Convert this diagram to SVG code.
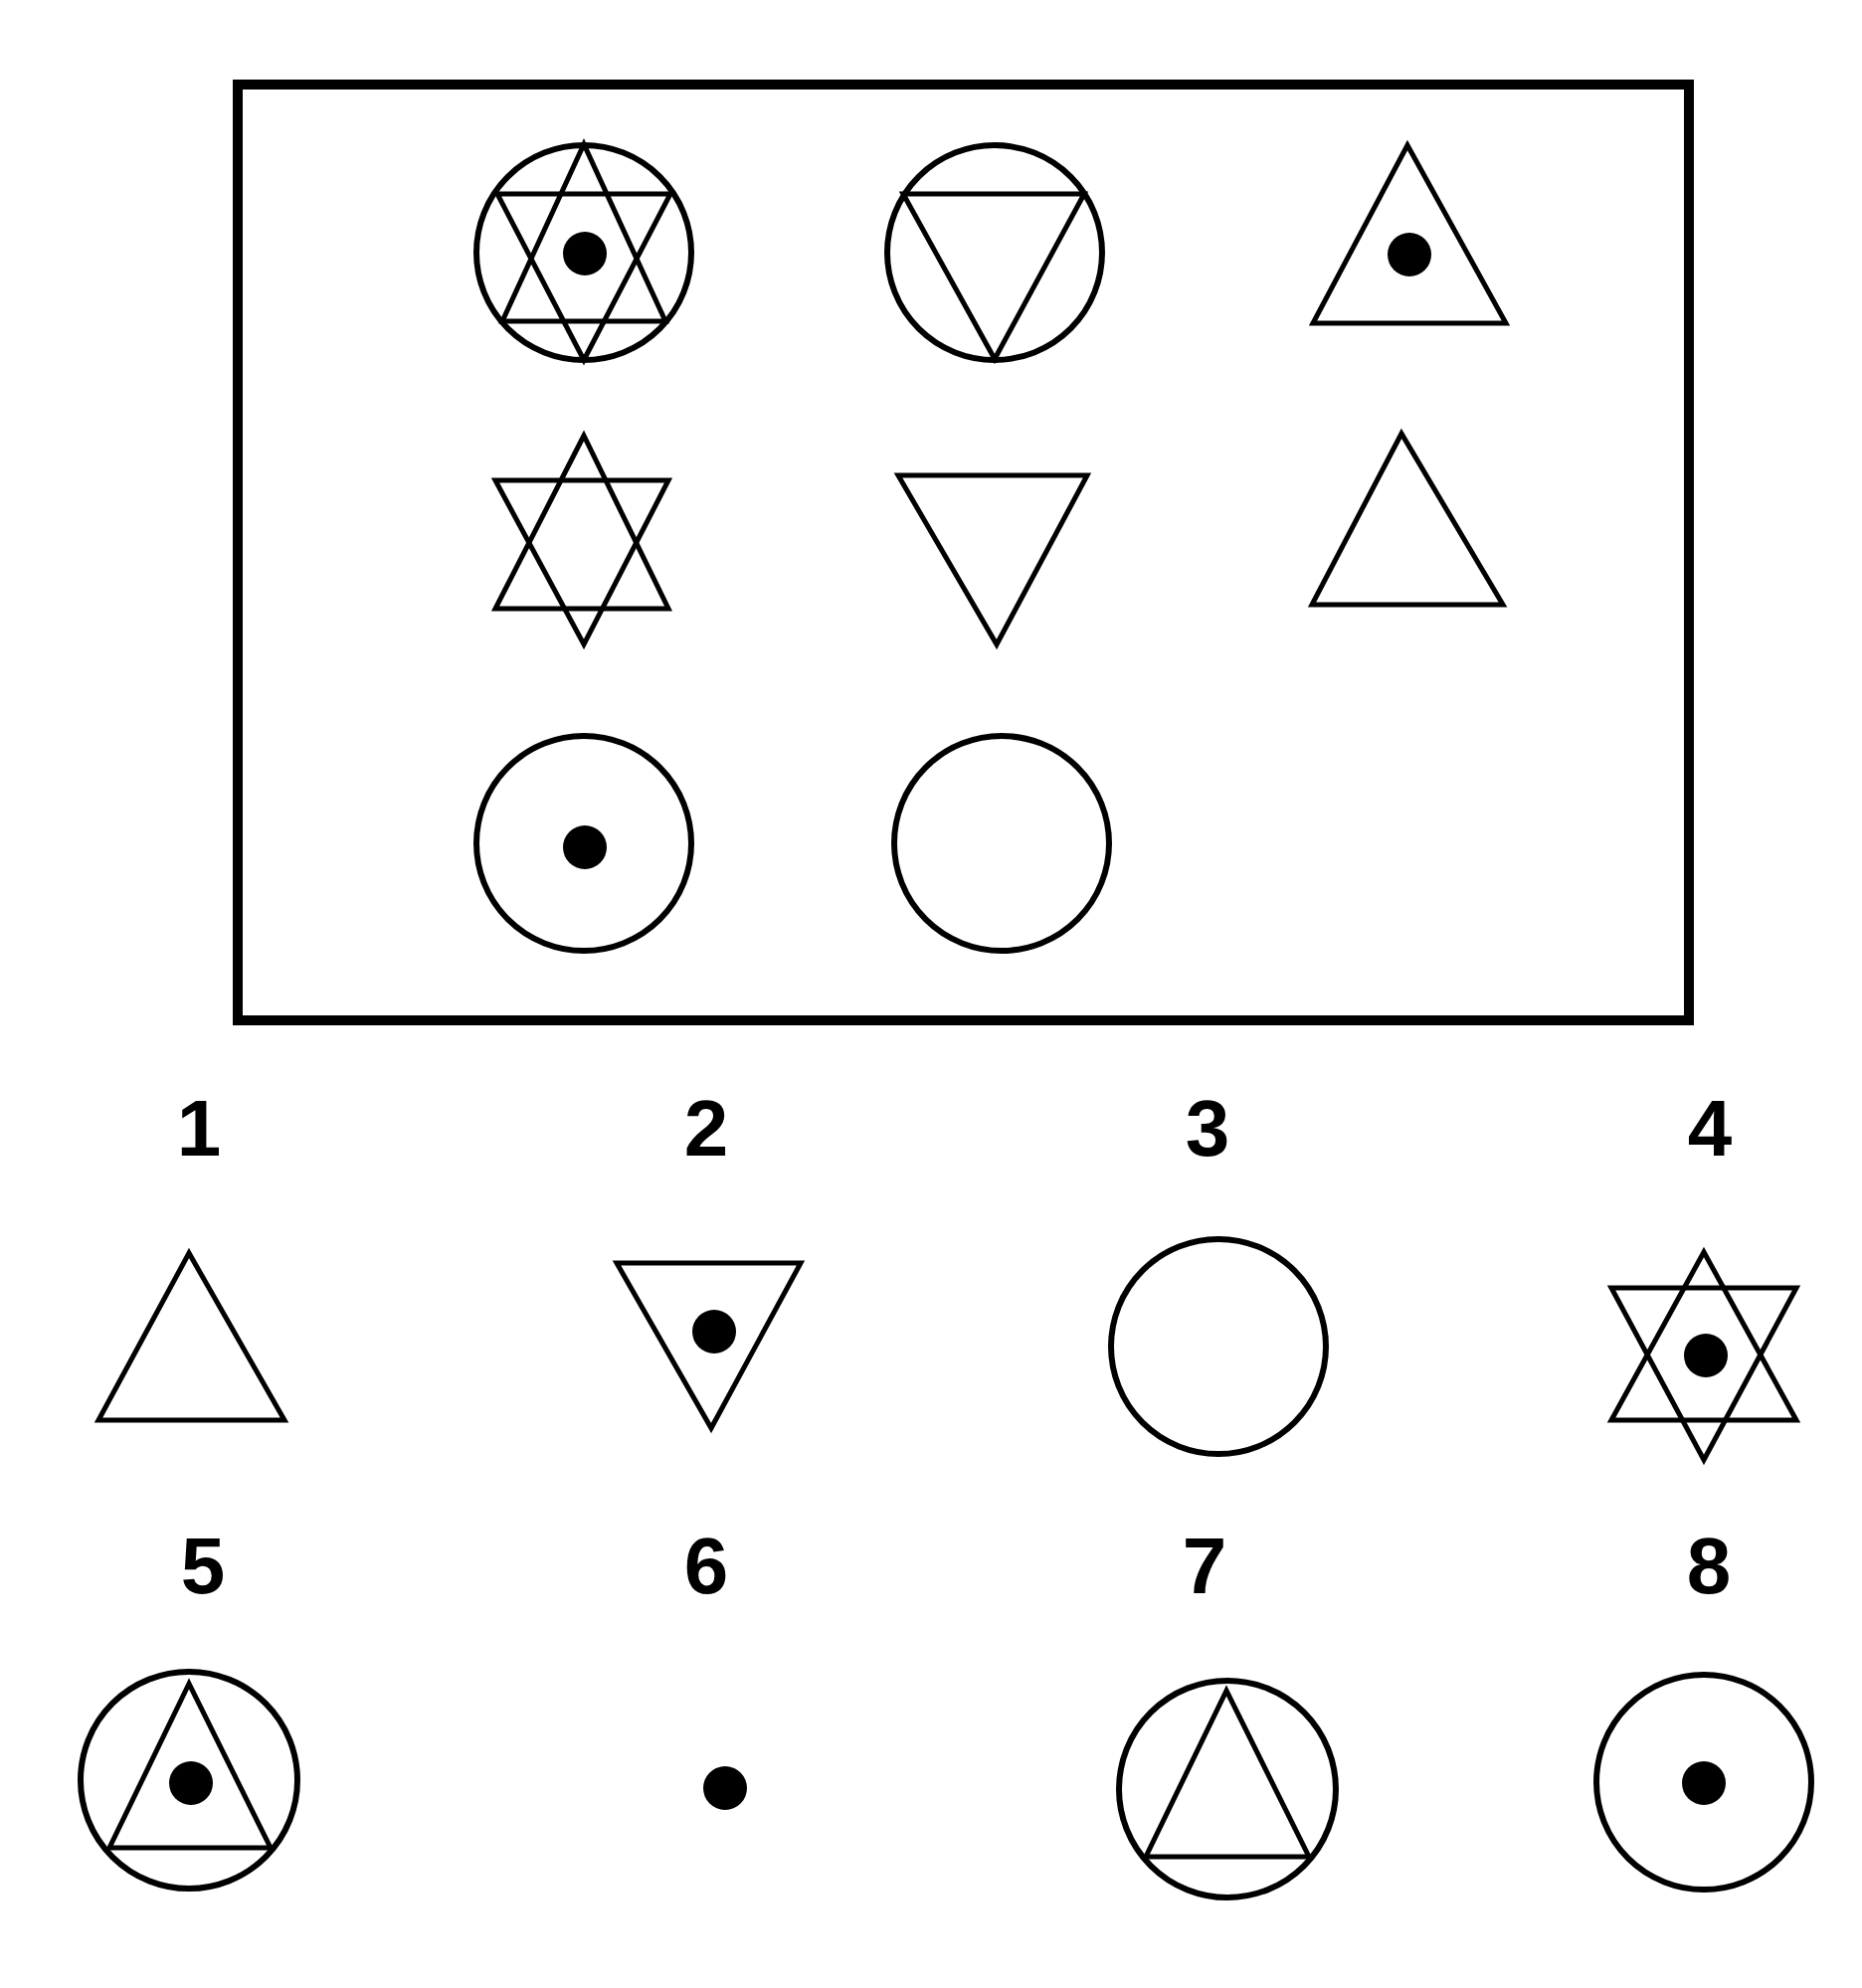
<svg xmlns="http://www.w3.org/2000/svg" width="1872" height="1999" viewBox="0 0 1872 1999">
<style>
.s{fill:none;stroke:#000;stroke-width:5;stroke-linejoin:miter}
.c{fill:none;stroke:#000;stroke-width:6}
.d{fill:#000}
.lbl{font-family:"Liberation Sans",Arial,sans-serif;font-weight:bold;font-size:80px;text-anchor:middle;fill:#000}
</style>
<rect width="1872" height="1999" fill="#fff"/>
<g id="frame"><rect x="239" y="85" width="1459" height="941" fill="none" stroke="#000" stroke-width="10"/></g>
<g id="m11"><circle class="c" cx="587" cy="254" r="108"/><polygon class="s" points="587,145 505,323 669,323"/><polygon class="s" points="500,195 674,195 587,362"/><circle class="d" cx="588" cy="255" r="22"/></g>
<g id="m12"><circle class="c" cx="1000" cy="254" r="108"/><polygon class="s" points="908,195 1090,195 1000,361"/></g>
<g id="m13"><polygon class="s" points="1415,146 1320,325 1514,325"/><circle class="d" cx="1417" cy="256" r="22"/></g>
<g id="m21"><polygon class="s" points="587,438 498,612 672,612"/><polygon class="s" points="498,483 672,483 587,648"/></g>
<g id="m22"><polygon class="s" points="903,478 1093,478 1002,648"/></g>
<g id="m23"><polygon class="s" points="1409,436 1319,608 1511,608"/></g>
<g id="m31"><circle class="c" cx="587" cy="848" r="108"/><circle class="d" cx="588" cy="852" r="22"/></g>
<g id="m32"><circle class="c" cx="1007" cy="848" r="108"/></g>
<g id="labels">
<text class="lbl" x="200" y="1162">1</text>
<text class="lbl" x="710" y="1162">2</text>
<text class="lbl" x="1214" y="1162">3</text>
<text class="lbl" x="1719" y="1162">4</text>
<text class="lbl" x="204" y="1602">5</text>
<text class="lbl" x="710" y="1602">6</text>
<text class="lbl" x="1211" y="1602">7</text>
<text class="lbl" x="1718" y="1602">8</text>
</g>
<g id="o1"><polygon class="s" points="190,1260 99,1428 286,1428"/></g>
<g id="o2"><polygon class="s" points="620,1270 805,1270 715,1436"/><circle class="d" cx="718" cy="1339" r="22"/></g>
<g id="o3"><circle class="c" cx="1225" cy="1354" r="108"/></g>
<g id="o4"><polygon class="s" points="1713,1259 1620,1428 1806,1428"/><polygon class="s" points="1620,1295 1806,1295 1713,1468"/><circle class="d" cx="1715" cy="1363" r="22"/></g>
<g id="o5"><circle class="c" cx="190" cy="1790" r="109"/><polygon class="s" points="190,1693 110,1858 272,1858"/><circle class="d" cx="192" cy="1793" r="22"/></g>
<g id="o6"><circle class="d" cx="729" cy="1798" r="22"/></g>
<g id="o7"><circle class="c" cx="1234" cy="1799" r="109"/><polygon class="s" points="1233,1700 1152,1867 1316,1867"/></g>
<g id="o8"><circle class="c" cx="1713" cy="1792" r="108"/><circle class="d" cx="1713" cy="1793" r="22"/></g>
</svg>
